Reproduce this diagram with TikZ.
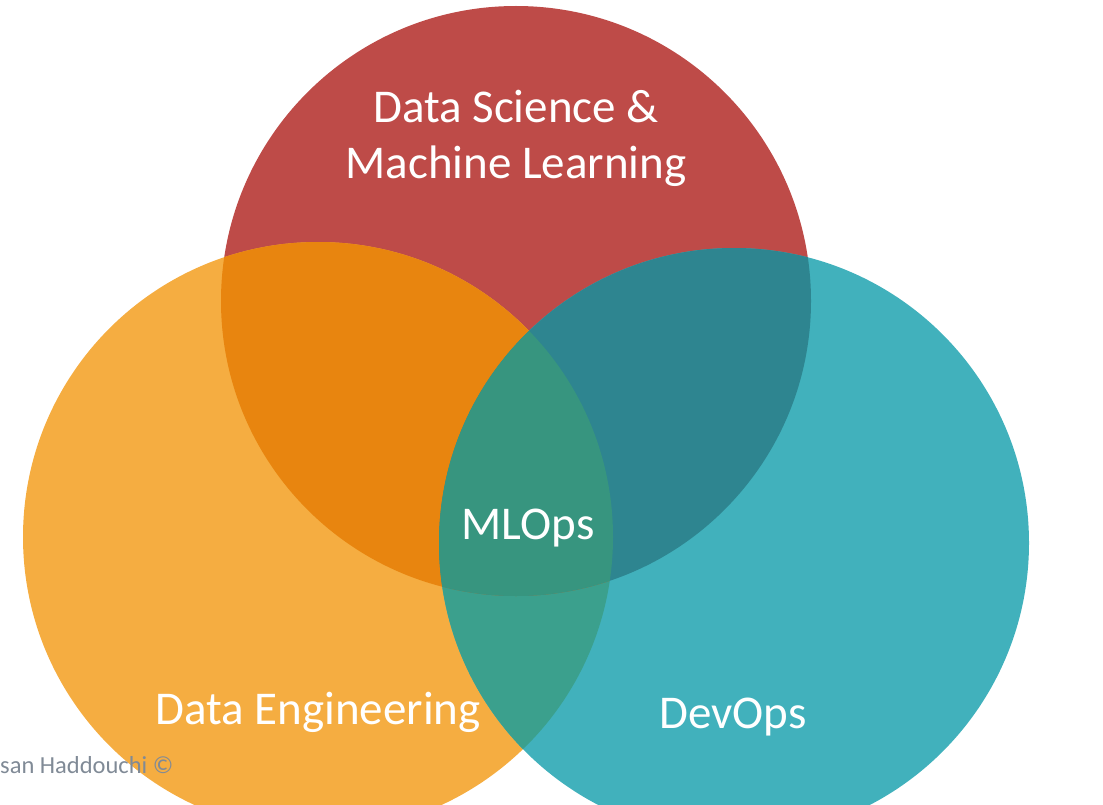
\documentclass[tikz,border=0pt]{standalone}
\usepackage{fontspec}
\setmainfont{Carlito}
\definecolor{dsred}{HTML}{BE4B48}
\definecolor{deorange}{HTML}{F5AD41}
\definecolor{devteal}{HTML}{41B1BC}
\definecolor{redorange}{HTML}{E8850F}
\definecolor{redteal}{HTML}{2E8590}
\definecolor{orangeteal}{HTML}{3BA08D}
\definecolor{mlgreen}{HTML}{37957F}
\definecolor{creditgray}{HTML}{808A96}
\begin{document}
\begin{tikzpicture}[x=1pt, y=-1pt,
    lbl/.style={text=white, font=\fontsize{47}{56}\selectfont, align=center, inner sep=0pt},
    credit/.style={text=creditgray, font=\fontsize{24.5}{29}\selectfont, inner sep=0pt}]
  \useasboundingbox (0,0) rectangle (1103,805);
  \clip (0,0) rectangle (1103,805);
  \coordinate (ds) at (516,301);
  \coordinate (de) at (318,537);
  \coordinate (dev) at (734,543);
  \def\rad{295}
  % the three circles
  \fill[dsred] (ds) circle[radius=\rad];
  \fill[deorange] (de) circle[radius=\rad];
  \fill[devteal] (dev) circle[radius=\rad];
  % overlaps
  \begin{scope}
    \clip (de) circle[radius=\rad];
    \fill[orangeteal] (dev) circle[radius=\rad];
  \end{scope}
  \begin{scope}
    \clip (ds) circle[radius=\rad];
    \fill[redorange] (de) circle[radius=\rad];
    \fill[redteal] (dev) circle[radius=\rad];
    \clip (de) circle[radius=\rad];
    \fill[mlgreen] (dev) circle[radius=\rad];
  \end{scope}
  % labels
  \node[lbl] (dsml) at (516,138) {Data Science \&\\Machine Learning};
  \node[lbl, anchor=base] (mlops) at (528,539) {MLOps};
  \node[lbl, anchor=base] (dataeng) at (318,724) {Data Engineering};
  \node[lbl, anchor=base] (devops) at (733,728) {DevOps};
  \node[credit, anchor=base west] (copy) at (0,773) {san Haddouchi ©};
\end{tikzpicture}
\end{document}
